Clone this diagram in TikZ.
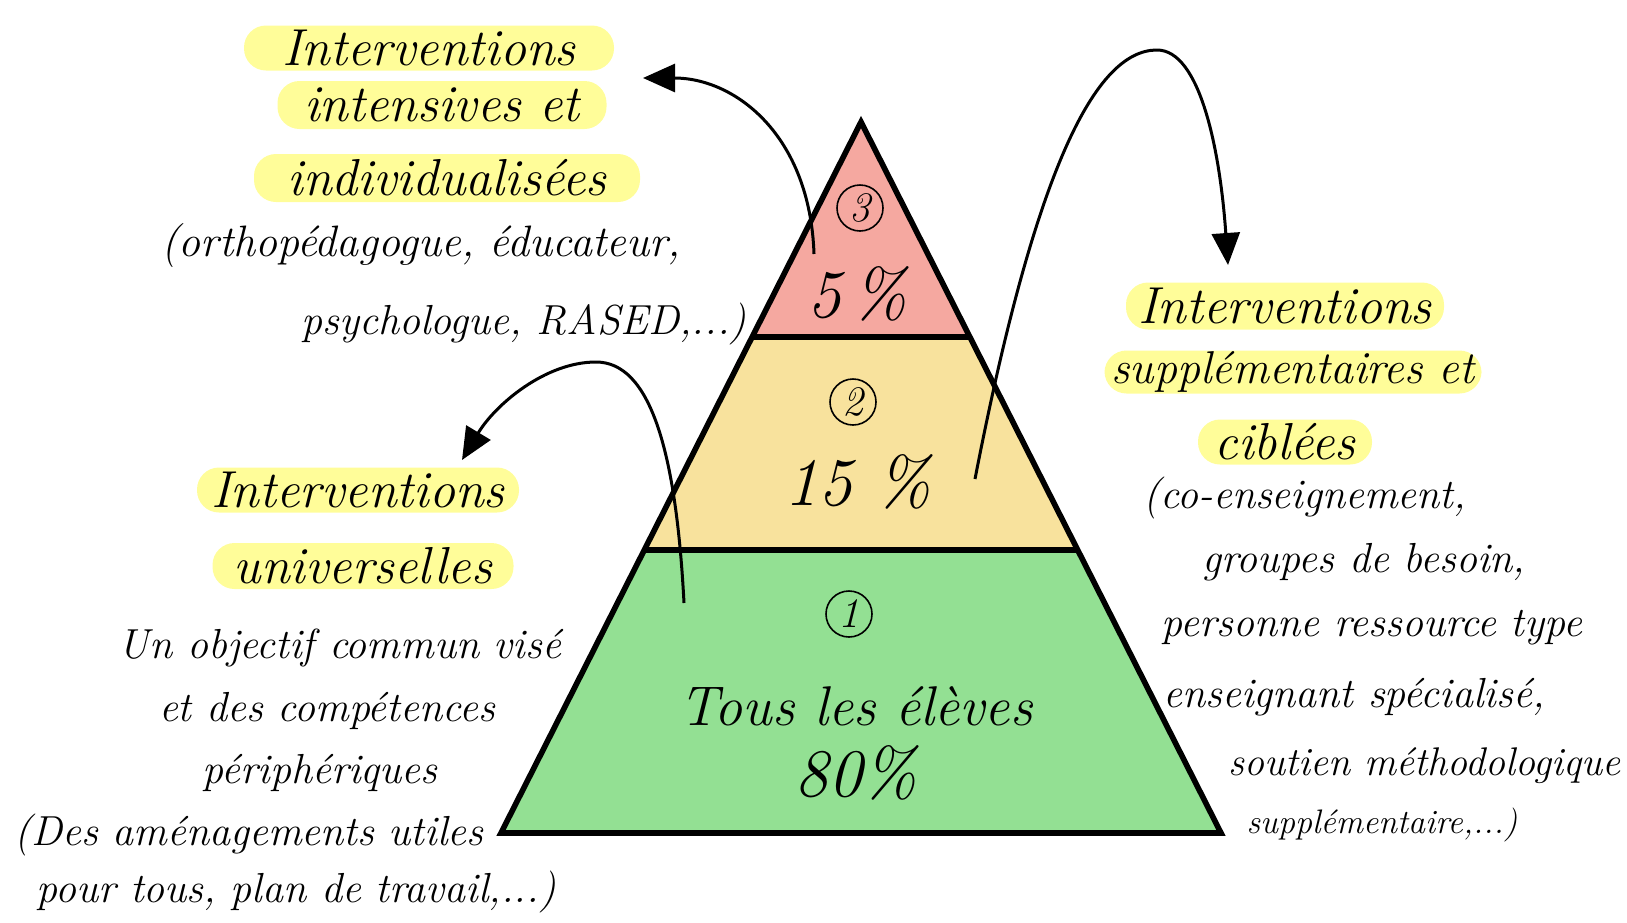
\documentclass[tikz,border=0pt]{standalone}
\usepackage{fontspec}
\usetikzlibrary{arrows.meta}
\definecolor{tierred}{HTML}{F5A8A0}
\definecolor{tieryel}{HTML}{F8E29D}
\definecolor{tiergrn}{HTML}{93E093}
\definecolor{pillyel}{HTML}{FFFD99}
\newcommand\headfnt{\fontsize{26}{30}\selectfont\itshape}
\newcommand\bodyfnt{\fontsize{21}{25}\selectfont\itshape}
\newcommand\bigfnt{\fontsize{34}{38}\selectfont\itshape}
\newcommand\tousfnt{\fontsize{28}{32}\selectfont\itshape}
\tikzset{
  pillbox/.style={fill=pillyel, rounded corners=11pt, inner sep=0pt, font=\headfnt},
  bodytxt/.style={inner sep=0pt, font=\bodyfnt},
  bigtxt/.style={inner sep=0pt, font=\bigfnt},
  numcirc/.style={circle, draw, line width=0.8pt, minimum size=23pt, inner sep=0pt, font=\fontsize{21}{23}\selectfont\itshape},
  curvearrow/.style={line width=1.5pt, -{Triangle[length=16pt,width=14pt]}},
  tierline/.style={line width=2.8pt, line join=miter},
}
\begin{document}
\begin{tikzpicture}[x=0.5pt, y=-0.5pt]
\useasboundingbox (0,0) rectangle (1627,922);
% pyramid corners
\coordinate (apex) at (861,122);
\coordinate (t1l) at (753,337);
\coordinate (t1r) at (970,337);
\coordinate (t2l) at (645,550);
\coordinate (t2r) at (1077,550);
\coordinate (bl) at (501,833);
\coordinate (br) at (1221,833);
\fill[tierred] (apex) -- (t1r) -- (t1l) -- cycle;
\fill[tieryel] (t1l) -- (t1r) -- (t2r) -- (t2l) -- cycle;
\fill[tiergrn] (t2l) -- (t2r) -- (br) -- (bl) -- cycle;
\draw[tierline] (apex) -- (br) -- (bl) -- cycle;
\draw[tierline] (t1l) -- (t1r);
\draw[tierline] (t2l) -- (t2r);
% tier labels
\node[numcirc] (n3) at (860,208) {3};
\node[bigtxt] (p3) at (857,294) {5\,\%};
\node[numcirc] (n2) at (853,402) {2};
\node[bigtxt] (p2) at (858,482) {15 \%};
\node[numcirc] (n1) at (849,614) {1};
\node[inner sep=0pt, font=\tousfnt] (tous) at (856,706) {Tous les élèves};
\node[bigtxt] (p1) at (856,773) {80\%};
% top-left block
\node[pillbox, minimum width=185pt, minimum height=22.5pt] (tl1) at (429,48) {Interventions};
\node[pillbox, minimum width=164.5pt, minimum height=24pt] (tl2) at (442,105) {intensives et};
\node[pillbox, minimum width=193pt, minimum height=24pt] (tl3) at (447,178) {individualisées};
\node[bodytxt, font=\fontsize{22}{26}\selectfont\itshape] (tlb1) at (421,246) {(orthopédagogue, éducateur,};
\node[bodytxt] (tlb2) at (524,324) {psychologue, RASED,...)};
% lower-left block
\node[pillbox, minimum width=161pt, minimum height=22.5pt] (ll1) at (358,490) {Interventions};
\node[pillbox, minimum width=150.5pt, minimum height=23pt] (ll2) at (363,566) {universelles};
\node[bodytxt] (llb1) at (340,648) {Un objectif commun visé};
\node[bodytxt] (llb2) at (327,711) {et des compétences};
\node[bodytxt] (llb3) at (320,773) {périphériques};
\node[bodytxt] (llb4) at (249,835) {(Des aménagements utiles};
\node[bodytxt] (llb5) at (296,892) {pour tous, plan de travail,...)};
% right block
\node[pillbox, minimum width=159pt, minimum height=23.5pt] (r1) at (1285,306) {Interventions};
\node[pillbox, minimum width=188.5pt, minimum height=21.5pt, font=\fontsize{23}{27}\selectfont\itshape] (r2) at (1293,372) {supplémentaires et};
\node[pillbox, minimum width=87pt, minimum height=22.5pt] (r3) at (1285,442) {ciblées};
\node[bodytxt] (rb1) at (1305,498) {(co-enseignement,};
\node[bodytxt] (rb2) at (1364,562) {groupes de besoin,};
\node[bodytxt] (rb3) at (1372,628) {personne ressource type};
\node[bodytxt] (rb4) at (1354,697) {enseignant spécialisé,};
\node[bodytxt, font=\fontsize{20}{24}\selectfont\itshape] (rb5) at (1424,766) {soutien méthodologique};
\node[bodytxt, font=\fontsize{17}{20}\selectfont\itshape] (rb6) at (1382,825) {supplémentaire,...)};
% arrows
\coordinate (a1s) at (814,254);
\coordinate (a1e) at (643,78);
\coordinate (a2s) at (975,479);
\coordinate (a2p) at (1157,50);
\coordinate (a2e) at (1228,265);
\coordinate (a3s) at (684,603);
\coordinate (a3p) at (596,362);
\coordinate (a3e) at (462,460);
\draw[curvearrow] (a1s) .. controls (810,135) and (735,78) .. (a1e);
\draw[curvearrow] (a2s) .. controls (1035,170) and (1095,50) .. (a2p) .. controls (1200,50) and (1220,150) .. (a2e);
\draw[curvearrow] (a3s) .. controls (676,450) and (650,362) .. (a3p) .. controls (545,362) and (495,405) .. (a3e);
\end{tikzpicture}
\end{document}
